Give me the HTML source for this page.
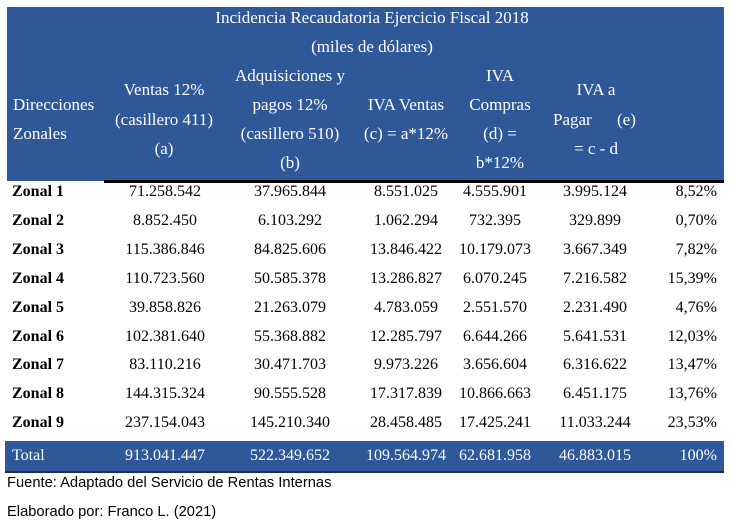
<!DOCTYPE html>
<html><head><meta charset="utf-8"><style>
body{margin:0;width:733px;height:525px;background:#fff;position:relative;overflow:hidden;font-family:"Liberation Serif",serif;font-size:16px;color:#000}
.b{position:absolute;background:#2f5899}
.t{position:absolute;white-space:nowrap;line-height:18px}
.w{color:#fff}
.h{font-size:17px}
.c{transform:translateX(-50%)}
.r{transform:translateX(-100%)}
.s{font-family:"Liberation Sans",sans-serif;font-size:15px;transform:scaleX(0.98);transform-origin:left}
</style></head><body>
<div class="b" style="left:7px;top:7px;width:717px;height:174px"></div>
<div style="position:absolute;left:104px;top:180px;width:620px;height:3px;background:#000"></div>
<div class="b" style="left:5px;top:441px;width:719px;height:31px"></div>
<div style="position:absolute;left:5px;top:471px;width:719px;height:2px;background:#1a2f55"></div>

<div class="t w c h" style="left:372px;top:9px">Incidencia Recaudatoria Ejercicio Fiscal 2018</div>
<div class="t w c h" style="left:372px;top:38px">(miles de dólares)</div>
<div class="t w h" style="left:13px;top:96px">Direcciones</div>
<div class="t w h" style="left:13px;top:125px">Zonales</div>
<div class="t w c h" style="left:164px;top:81px">Ventas 12%</div>
<div class="t w c h" style="left:164px;top:111px">(casillero 411)</div>
<div class="t w c h" style="left:164px;top:140px">(a)</div>
<div class="t w c h" style="left:290px;top:67px">Adquisiciones y</div>
<div class="t w c h" style="left:290px;top:96px">pagos 12%</div>
<div class="t w c h" style="left:290px;top:125px">(casillero 510)</div>
<div class="t w c h" style="left:290px;top:154px">(b)</div>
<div class="t w c h" style="left:406px;top:96px">IVA Ventas</div>
<div class="t w c h" style="left:406px;top:125px">(c) = a*12%</div>
<div class="t w c h" style="left:500px;top:67px">IVA</div>
<div class="t w c h" style="left:500px;top:96px">Compras</div>
<div class="t w c h" style="left:500px;top:125px">(d) =</div>
<div class="t w c h" style="left:500px;top:154px">b*12%</div>
<div class="t w c h" style="left:596px;top:81px">IVA a</div>
<div class="t w h" style="left:553px;top:111px">Pagar</div>
<div class="t w h" style="left:617px;top:111px">(e)</div>
<div class="t w c h" style="left:596px;top:140px">= c - d</div>

<div id="rows"></div>
<script>
var d=[["Zonal 1","71.258.542","37.965.844","8.551.025","4.555.901","3.995.124","8,52%"],
["Zonal 2","8.852.450","6.103.292","1.062.294","732.395","329.899","0,70%"],
["Zonal 3","115.386.846","84.825.606","13.846.422","10.179.073","3.667.349","7,82%"],
["Zonal 4","110.723.560","50.585.378","13.286.827","6.070.245","7.216.582","15,39%"],
["Zonal 5","39.858.826","21.263.079","4.783.059","2.551.570","2.231.490","4,76%"],
["Zonal 6","102.381.640","55.368.882","12.285.797","6.644.266","5.641.531","12,03%"],
["Zonal 7","83.110.216","30.471.703","9.973.226","3.656.604","6.316.622","13,47%"],
["Zonal 8","144.315.324","90.555.528","17.317.839","10.866.663","6.451.175","13,76%"],
["Zonal 9","237.154.043","145.210.340","28.458.485","17.425.241","11.033.244","23,53%"],
["Total","913.041.447","522.349.652","109.564.974","62.681.958","46.883.015","100%"]];
var cx=[165,290,406,495,595],h="";
d.forEach(function(r,i){var y=i<9?183+i*28.9:447;var w=i==9?" w":"";
h+='<div class="t'+w+'" style="left:12px;top:'+y+'px;'+(i<9?'font-weight:bold':'')+'">'+r[0]+'</div>';
for(var j=0;j<5;j++)h+='<div class="t c'+w+'" style="left:'+cx[j]+'px;top:'+y+'px">'+r[j+1]+'</div>';
h+='<div class="t r'+w+'" style="left:717px;top:'+y+'px">'+r[6]+'</div>';});
document.getElementById("rows").innerHTML=h;
</script>
<div class="t s" style="left:7px;top:474px">Fuente: Adaptado del Servicio de Rentas Internas</div>
<div class="t s" style="left:7px;top:503px">Elaborado por: Franco L. (2021)</div>
</body></html>
